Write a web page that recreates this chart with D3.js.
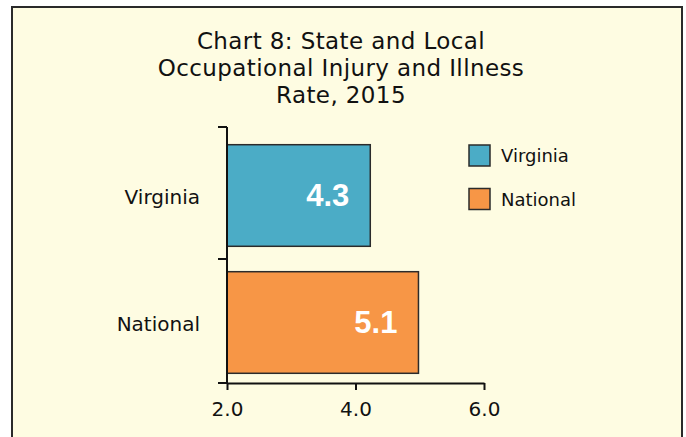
<!DOCTYPE html>
<html>
<head>
<meta charset="utf-8">
<script src="https://cdn.jsdelivr.net/npm/d3@7"></script>
<style>
  body { margin: 0; background: #fff; }
  text { font-family: "DejaVu Sans", Verdana, sans-serif; fill: #111; }
</style>
</head>
<body>
<div id="chart"></div>
<script>
const titleLines = ["Chart 8: State and Local", "Occupational Injury and Illness", "Rate, 2015"];
const categories = ["Virginia", "National"];
const barValues = [4.23, 4.98];
const valueLabels = ["4.3", "5.1"];
const colors = ["#4bacc6", "#f79646"];
const xTicks = [2, 4, 6];

const W = 686, H = 437;
const svg = d3.select("#chart").append("svg")
    .attr("width", W)
    .attr("height", H);

// panel
svg.append("rect")
    .attr("x", 12).attr("y", 7)
    .attr("width", 670).attr("height", 445)
    .attr("fill", "#fefce2")
    .attr("stroke", "#2a2a2a")
    .attr("stroke-width", 2);

// title
svg.append("g").selectAll("text")
    .data(titleLines)
    .enter()
    .append("text")
    .attr("x", 341)
    .attr("y", (d, i) => 49 + i * 27)
    .attr("text-anchor", "middle")
    .style("font-size", "23px")
    .style("letter-spacing", "0.4px")
    .text(d => d);

// scales
const x = d3.scaleLinear().domain([2, 6]).range([227, 484]);
const y = d3.scaleBand().domain(categories).range([132, 386]).paddingInner(0.2).paddingOuter(0.1);
const axisTop = 127, axisBottom = 383;

// bars
const bars = svg.append("g");
bars.selectAll("rect")
    .data(categories)
    .enter()
    .append("rect")
    .attr("x", x(2))
    .attr("y", d => y(d))
    .attr("width", (d, i) => x(barValues[i]) - x(2))
    .attr("height", y.bandwidth())
    .attr("fill", (d, i) => colors[i])
    .attr("stroke", "#2b2b2b")
    .attr("stroke-width", 1.5);

bars.selectAll("text.value")
    .data(categories)
    .enter()
    .append("text")
    .attr("class", "value")
    .attr("x", (d, i) => x(barValues[i]) - 21)
    .attr("y", d => y(d) + y.bandwidth() / 2 + 10)
    .attr("text-anchor", "end")
    .style("font-family", "'Liberation Sans', Arial, sans-serif")
    .style("font-weight", "bold")
    .style("font-size", "31px")
    .style("fill", "#fff")
    .text((d, i) => valueLabels[i]);

// category labels
svg.append("g").selectAll("text")
    .data(categories)
    .enter()
    .append("text")
    .attr("x", 200)
    .attr("y", d => y(d) + y.bandwidth() / 2 + 8)
    .attr("text-anchor", "end")
    .style("font-size", "20px")
    .text(d => d);

// y axis line and ticks at band edges
const yTicks = [axisTop, (y(categories[0]) + y.bandwidth() + y(categories[1])) / 2, axisBottom];
const yAxis = svg.append("g");
yAxis.append("line")
    .attr("x1", x(2)).attr("x2", x(2))
    .attr("y1", axisTop).attr("y2", axisBottom)
    .attr("stroke", "#111").attr("stroke-width", 2);
yAxis.selectAll("line.tick")
    .data(yTicks)
    .enter()
    .append("line")
    .attr("class", "tick")
    .attr("x1", x(2) - 9).attr("x2", x(2))
    .attr("y1", d => d).attr("y2", d => d)
    .attr("stroke", "#111").attr("stroke-width", 2);

// x axis
const xAxis = svg.append("g")
    .attr("transform", `translate(0,${axisBottom})`)
    .call(d3.axisBottom(x).tickValues(xTicks).tickFormat(d3.format(".1f")).tickSize(7).tickSizeOuter(0).tickPadding(12));
xAxis.select(".domain").attr("stroke", "#111").attr("stroke-width", 2);
xAxis.selectAll(".tick line").attr("stroke", "#111").attr("stroke-width", 2);
xAxis.selectAll(".tick text")
    .style("font-family", "'DejaVu Sans', Verdana, sans-serif")
    .style("font-size", "20px")
    .attr("fill", "#111");

// legend
const legend = svg.append("g").selectAll("g")
    .data(categories)
    .enter()
    .append("g")
    .attr("transform", (d, i) => `translate(469,${145 + i * 43.5})`);
legend.append("rect")
    .attr("width", 21).attr("height", 21)
    .attr("fill", (d, i) => colors[i])
    .attr("stroke", "#2b2b2b")
    .attr("stroke-width", 1.5);
legend.append("text")
    .attr("x", 32)
    .attr("y", 17)
    .style("font-size", "18px")
    .text(d => d);
</script>
</body>
</html>
